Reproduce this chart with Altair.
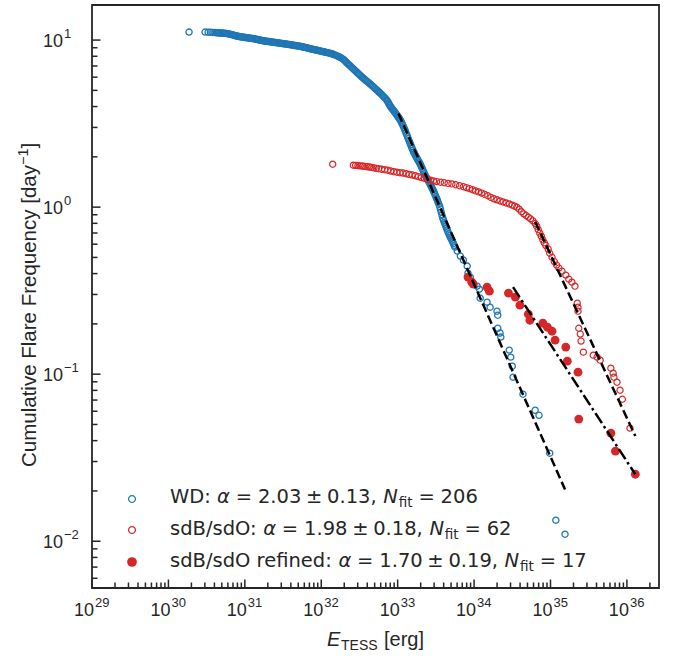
import altair as alt
import pandas as pd
import numpy as np

# ---------------- data (log10 E [erg], log10 cumulative frequency [1/day]) ----------------
wd_logE = [30.27, 30.48, 30.52, 30.55, 30.58,
           30.610, 30.625, 30.640, 30.655, 30.670, 30.685, 30.700, 30.715, 30.730, 30.745,
           30.760, 30.775, 30.790, 30.805, 30.820, 30.835, 30.850, 30.865, 30.880, 30.895,
           30.910, 30.925, 30.940, 30.955, 30.970, 30.985, 31.000, 31.015, 31.030, 31.045,
           31.060, 31.075, 31.090, 31.105, 31.120, 31.135, 31.150, 31.165, 31.180, 31.195,
           31.210, 31.225, 31.240, 31.255, 31.270, 31.285, 31.300, 31.315, 31.330, 31.345,
           31.360, 31.375, 31.390, 31.405, 31.420, 31.435, 31.450, 31.465, 31.480, 31.495,
           31.510, 31.525, 31.540, 31.555, 31.570, 31.585, 31.600, 31.615, 31.630, 31.645,
           31.660, 31.675, 31.690, 31.705, 31.720, 31.735, 31.750, 31.765, 31.780, 31.795,
           31.810, 31.825, 31.840, 31.855, 31.870, 31.885, 31.900, 31.915, 31.930, 31.945,
           31.960, 31.975, 31.990, 32.005, 32.020, 32.035, 32.050, 32.065, 32.080, 32.095,
           32.110, 32.125, 32.140, 32.155, 32.170, 32.185, 32.200, 32.215, 32.230, 32.245,
           32.260,
           32.275, 32.29, 32.305, 32.32, 32.335, 32.35, 32.365, 32.38, 32.395, 32.41, 32.425, 32.44,
           32.455, 32.47, 32.485, 32.50, 32.515, 32.53, 32.545, 32.56, 32.575, 32.59, 32.605, 32.62,
           32.635, 32.65, 32.665, 32.68, 32.695, 32.71, 32.725, 32.74, 32.755, 32.77, 32.785, 32.80,
           32.815, 32.83, 32.845,
           32.86, 32.87, 32.88, 32.89, 32.90, 32.91, 32.92, 32.93, 32.94, 32.95, 32.96, 32.97, 32.98,
           32.99, 33.00, 33.01, 33.02, 33.03, 33.04, 33.05, 33.06, 33.07, 33.08, 33.09, 33.10, 33.11,
           33.12, 33.13, 33.14, 33.15, 33.16, 33.17, 33.18, 33.19, 33.20, 33.21, 33.22, 33.23, 33.24,
           33.25, 33.26, 33.27, 33.28, 33.29, 33.30, 33.31, 33.32, 33.33, 33.34, 33.35, 33.36, 33.37,
           33.38, 33.39, 33.40, 33.41, 33.42, 33.43, 33.44, 33.45, 33.46, 33.47, 33.48, 33.49, 33.50,
           33.51, 33.52, 33.53, 33.54, 33.55, 33.56, 33.57, 33.58, 33.59, 33.60, 33.61, 33.62, 33.63,
           33.64, 33.65, 33.66, 33.67, 33.68, 33.69, 33.70, 33.71, 33.72, 33.73, 33.74, 33.75, 33.78,
           33.82, 33.86, 33.91, 33.92, 33.95, 34.04, 34.07, 34.08, 34.17, 34.21, 34.30, 34.31, 34.31,
           34.34, 34.35, 34.46, 34.48, 34.50, 34.51, 34.64, 34.80, 34.85, 34.99, 35.07, 35.19]
wd_logF = [1.048, 1.048, 1.047, 1.047, 1.046,
           1.045, 1.044, 1.044, 1.043, 1.043, 1.042, 1.042, 1.041, 1.041, 1.040,
           1.040, 1.038, 1.037, 1.035, 1.034, 1.032, 1.030, 1.028, 1.026, 1.024,
           1.023, 1.021, 1.020, 1.019, 1.018, 1.017, 1.016, 1.015, 1.014, 1.013,
           1.012, 1.011, 1.010, 1.009, 1.008, 1.006, 1.005, 1.003, 1.002, 1.000,
           0.999, 0.997, 0.996, 0.995, 0.994, 0.993, 0.992, 0.991, 0.990, 0.989,
           0.988, 0.987, 0.986, 0.985, 0.984, 0.983, 0.982, 0.981, 0.980, 0.979,
           0.978, 0.977, 0.976, 0.975, 0.974, 0.973, 0.972, 0.971, 0.970, 0.968,
           0.967, 0.966, 0.965, 0.964, 0.963, 0.961, 0.960, 0.958, 0.957, 0.955,
           0.954, 0.952, 0.950, 0.948, 0.947, 0.945, 0.944, 0.942, 0.941, 0.939,
           0.938, 0.936, 0.934, 0.932, 0.931, 0.929, 0.928, 0.926, 0.925, 0.923,
           0.922, 0.920, 0.918, 0.915, 0.913, 0.910, 0.907, 0.904, 0.901, 0.897,
           0.894,
           0.889, 0.884, 0.878, 0.871, 0.864, 0.858, 0.851, 0.845, 0.838, 0.832, 0.825, 0.819,
           0.812, 0.806, 0.799, 0.793, 0.786, 0.780, 0.774, 0.768, 0.762, 0.756, 0.751, 0.745,
           0.739, 0.733, 0.727, 0.721, 0.714, 0.708, 0.702, 0.696, 0.689, 0.683, 0.676, 0.669,
           0.662, 0.655, 0.648,
           0.639, 0.632, 0.624, 0.615, 0.607, 0.600, 0.594, 0.588, 0.582, 0.576, 0.570, 0.564, 0.557,
           0.551, 0.545, 0.538, 0.532, 0.525, 0.517, 0.508, 0.498, 0.488, 0.478, 0.467, 0.456, 0.444,
           0.432, 0.420, 0.409, 0.397, 0.386, 0.374, 0.362, 0.351, 0.340, 0.330, 0.321, 0.312, 0.303,
           0.295, 0.286, 0.278, 0.270, 0.262, 0.253, 0.243, 0.233, 0.222, 0.211, 0.200, 0.191, 0.182,
           0.174, 0.166, 0.158, 0.150, 0.141, 0.132, 0.123, 0.114, 0.105, 0.095, 0.085, 0.074, 0.063,
           0.052, 0.040, 0.028, 0.016, 0.004, -0.013, -0.030, -0.048, -0.065, -0.078, -0.090, -0.102,
           -0.114, -0.126, -0.138, -0.149, -0.160, -0.170, -0.180, -0.189, -0.198, -0.208, -0.218,
           -0.229, -0.240, -0.263,
           -0.293, -0.317, -0.353, -0.395, -0.419, -0.473, -0.491, -0.545, -0.569, -0.599, -0.623,
           -0.647, -0.725, -0.754, -0.778, -0.856, -0.898, -0.952, -1.018, -1.120, -1.216, -1.246,
           -1.473, -1.874, -1.958]

sdb_logE = [32.15, 32.42, 32.45, 32.48, 32.51, 32.54, 32.57, 32.60, 32.63, 32.66, 32.69, 32.72, 32.75,
            32.79, 32.83, 32.87, 32.91, 32.95, 32.99, 33.03, 33.07, 33.11, 33.15, 33.19, 33.23, 33.27,
            33.31, 33.35, 33.39, 33.43, 33.47, 33.51, 33.56, 33.61, 33.66, 33.71, 33.76, 33.81, 33.86,
            33.90, 33.94, 33.98, 34.02, 34.06, 34.10, 34.14, 34.18, 34.22, 34.26, 34.30, 34.34, 34.38,
            34.42, 34.46, 34.50, 34.53, 34.56, 34.59, 34.62, 34.65, 34.68, 34.71, 34.74, 34.77, 34.80,
            34.82, 34.84, 34.86, 34.88, 34.90, 34.92, 34.94, 34.97, 34.99, 35.02, 35.05, 35.08, 35.11,
            35.15, 35.20, 35.24, 35.28, 35.32, 35.35, 35.36, 35.36, 35.37, 35.39, 35.40, 35.43, 35.56,
            35.61, 35.65, 35.79, 35.82, 35.83, 35.87, 35.91, 35.94, 36.04]
sdb_logF = [0.257, 0.251, 0.250, 0.249, 0.247, 0.246, 0.244, 0.242, 0.240, 0.238, 0.235, 0.232, 0.230,
            0.227, 0.224, 0.221, 0.216, 0.212, 0.209, 0.206, 0.204, 0.200, 0.196, 0.192, 0.188, 0.183,
            0.177, 0.172, 0.166, 0.161, 0.157, 0.153, 0.149, 0.146, 0.142, 0.139, 0.134, 0.128, 0.122,
            0.117, 0.111, 0.104, 0.097, 0.091, 0.084, 0.076, 0.068, 0.058, 0.050, 0.044, 0.037, 0.031,
            0.025, 0.019, 0.012, 0.006, 0.000, -0.012, -0.027, -0.040, -0.050, -0.060, -0.070, -0.082,
            -0.098, -0.114, -0.135, -0.156, -0.174, -0.196, -0.214, -0.230, -0.251, -0.276, -0.300,
            -0.326, -0.347, -0.365, -0.383, -0.407, -0.431, -0.449, -0.473, -0.575, -0.599, -0.623,
            -0.725, -0.760, -0.802, -0.868, -0.886, -0.898, -0.916, -0.964, -0.994, -1.018, -1.048,
            -1.096, -1.150, -1.323]

ref_logE = [33.92, 33.97, 33.99, 34.17, 34.20, 34.45, 34.54, 34.60, 34.71, 34.73, 34.90, 34.96, 35.02,
            35.06, 35.20, 35.22, 35.36, 35.37, 35.79, 35.85, 36.11]
ref_logF = [-0.419, -0.449, -0.461, -0.479, -0.503, -0.515, -0.539, -0.587, -0.641, -0.677, -0.695,
            -0.719, -0.743, -0.796, -0.838, -0.922, -0.988, -1.269, -1.353, -1.461, -1.599]

fit_wd_logE = [33.01, 35.19]
fit_wd_logF = [0.561, -1.690]
fit_sdb_logE = [34.80, 36.11]
fit_sdb_logF = [-0.088, -1.370]
fit_ref_logE = [34.51, 36.11]
fit_ref_logF = [-0.479, -1.599]

x_major_exp = [29, 30, 31, 32, 33, 34, 35, 36]
y_major_exp = [-2, -1, 0, 1]

legend_rows = [
    ["WD:", "2.03", "0.13,", "206"],
    ["sdB/sdO:", "1.98", "0.18,", "62"],
    ["sdB/sdO refined:", "1.70", "0.19,", "17"],
]

# ---------------- layout ----------------
W, H = 567, 583
XMIN, XMAX = 1e29, 10 ** 36.42
YMIN, YMAX = 10 ** -2.28, 10 ** 1.21
BLUE, RED = "#1f77b4", "#d62728"
AX = "#262626"
TICKFONT = "Liberation Sans"
LEGFONT = "DejaVu Sans"

xs = alt.Scale(type="log", domain=[XMIN, XMAX], nice=False)
ys = alt.Scale(type="log", domain=[YMIN, YMAX], nice=False)


def pts(lx, ly):
    return pd.DataFrame({"E": np.power(10.0, lx), "F": np.power(10.0, ly)})


def enc():
    return dict(x=alt.X("E:Q", scale=xs, axis=None), y=alt.Y("F:Q", scale=ys, axis=None))


dummy = pd.DataFrame({"d": [0]})
layers = []

layers.append(alt.Chart(pts(wd_logE, wd_logF)).mark_point(
    shape="circle", filled=False, size=38, strokeWidth=1.3, color=BLUE, opacity=1).encode(**enc()))
layers.append(alt.Chart(pts(sdb_logE, sdb_logF)).mark_point(
    shape="circle", filled=False, size=38, strokeWidth=1.2, color=RED, opacity=1).encode(**enc()))
layers.append(alt.Chart(pts(ref_logE, ref_logF)).mark_circle(
    size=78, color=RED, opacity=1).encode(**enc()))

layers.append(alt.Chart(pts(fit_wd_logE, fit_wd_logF)).mark_line(
    color="black", strokeWidth=2.5, strokeDash=[9, 4]).encode(**enc()))
layers.append(alt.Chart(pts(fit_sdb_logE, fit_sdb_logF)).mark_line(
    color="black", strokeWidth=2.5, strokeDash=[9, 4]).encode(**enc()))
layers.append(alt.Chart(pts(fit_ref_logE, fit_ref_logF)).mark_line(
    color="black", strokeWidth=2.5, strokeDash=[12, 3.5, 2.5, 3.5]).encode(**enc()))

# ---------------- ticks (inward) ----------------
x_major = [10.0 ** e for e in x_major_exp]
x_minor = [k * 10.0 ** e for e in x_major_exp for k in range(2, 10) if k * 10.0 ** e <= XMAX]
y_major = [10.0 ** e for e in y_major_exp]
y_minor = [k * 10.0 ** e for e in range(-3, 2) for k in range(2, 10) if YMIN <= k * 10.0 ** e <= YMAX]

for vals, ln in [(x_major, 8.5), (x_minor, 5.5)]:
    layers.append(alt.Chart(pd.DataFrame({"v": vals})).mark_rule(color=AX, strokeWidth=1.5).encode(
        x=alt.X("v:Q", scale=xs, axis=None), y=alt.value(H), y2=alt.value(H - ln)))
for vals, ln in [(y_major, 8.5), (y_minor, 5.5)]:
    layers.append(alt.Chart(pd.DataFrame({"v": vals})).mark_rule(color=AX, strokeWidth=1.5).encode(
        y=alt.Y("v:Q", scale=ys, axis=None), x=alt.value(0), x2=alt.value(ln)))

# ---------------- tick labels ----------------
xlab = pd.DataFrame({"v": x_major, "exp": [str(e) for e in x_major_exp]})
layers.append(alt.Chart(xlab).mark_text(text="10", align="right", baseline="alphabetic", dx=2,
                                        font=TICKFONT, fontSize=18, color=AX).encode(
    x=alt.X("v:Q", scale=xs, axis=None), y=alt.value(H + 28)))
layers.append(alt.Chart(xlab).mark_text(align="left", baseline="alphabetic", dx=3,
                                        font=TICKFONT, fontSize=13, color=AX).encode(
    x=alt.X("v:Q", scale=xs, axis=None), y=alt.value(H + 19), text="exp:N"))

ylab = pd.DataFrame({"v": y_major, "exp": [str(e).replace("-", "\u2212") for e in y_major_exp]})
layers.append(alt.Chart(ylab).mark_text(text="10", align="left", baseline="alphabetic", dy=7,
                                        font=TICKFONT, fontSize=18, color=AX).encode(
    y=alt.Y("v:Q", scale=ys, axis=None), x=alt.value(-49)))
layers.append(alt.Chart(ylab).mark_text(align="left", baseline="alphabetic", dy=-2,
                                        font=TICKFONT, fontSize=13, color=AX).encode(
    y=alt.Y("v:Q", scale=ys, axis=None), x=alt.value(-28), text="exp:N"))


# ---------------- axis titles ----------------
def txt(t, x, y, size, style="normal", font=TICKFONT, angle=0, align="left"):
    kw = dict(text=t, align=align, baseline="alphabetic", font=font, fontSize=size,
              fontStyle=style, color=AX)
    if angle:
        kw["angle"] = angle
    return alt.Chart(dummy).mark_text(**kw).encode(x=alt.value(x), y=alt.value(y))


layers.append(txt("E", 235, 641, 20, "italic"))
layers.append(txt("TESS", 249, 645, 14))
layers.append(txt("[erg]", 292, 641, 20))

layers.append(txt("Cumulative Flare Frequency [day", -56, 462, 20.5, angle=270))
layers.append(txt("\u22121", -64, 160, 14.4, angle=270))
layers.append(txt("]", -56, 143.5, 20.5, angle=270))

# ---------------- legend ----------------
leg_y = [494, 525, 557]
base_y = [498, 530, 562]
layers.append(alt.Chart(dummy).mark_point(shape="circle", filled=False, size=48, strokeWidth=1.2,
                                          color=BLUE, opacity=1).encode(x=alt.value(40), y=alt.value(leg_y[0])))
layers.append(alt.Chart(dummy).mark_point(shape="circle", filled=False, size=48, strokeWidth=1.2,
                                          color=RED, opacity=1).encode(x=alt.value(40), y=alt.value(leg_y[1])))
layers.append(alt.Chart(dummy).mark_circle(size=95, color=RED, opacity=1).encode(
    x=alt.value(40), y=alt.value(leg_y[2])))

# DejaVu Sans advance widths (em) used to place the mathtext-like pieces of each legend label
CW = {"W": 0.989, "D": 0.770, ":": 0.337, " ": 0.318, "s": 0.521, "d": 0.635, "B": 0.686,
      "/": 0.337, "O": 0.787, "r": 0.411, "e": 0.615, "f": 0.352, "i": 0.278, "n": 0.634,
      "t": 0.392, ".": 0.318, ",": 0.318}


def tw(s, size):
    return size * sum(CW.get(c, 0.636) for c in s)


S = 19.5
SUB = 13.6
THICK, MED, COMMA = 0.30 * S, 0.24 * S, 0.34 * S
for r, row in enumerate(legend_rows):
    by = base_y[r]
    x = 78
    layers.append(txt(row[0], x, by, S, font=LEGFONT))
    x += tw(row[0] + " ", S)
    layers.append(txt("\u03b1", x, by, S, "italic", font=LEGFONT))
    x += 0.659 * S + THICK
    layers.append(txt("=", x, by, S, font=LEGFONT))
    x += 0.838 * S + THICK
    layers.append(txt(row[1], x, by, S, font=LEGFONT))
    x += tw(row[1], S) + MED
    layers.append(txt("\u00b1", x, by, S, font=LEGFONT))
    x += 0.838 * S + MED
    layers.append(txt(row[2], x, by, S, font=LEGFONT))
    x += tw(row[2], S) + COMMA
    layers.append(txt("N", x, by, S, "italic", font=LEGFONT))
    x += 0.748 * S + 0.04 * S
    layers.append(txt("fit", x, by + 4, SUB, font=LEGFONT))
    x += tw("fit", SUB) + THICK
    layers.append(txt("=", x, by, S, font=LEGFONT))
    x += 0.838 * S + THICK
    layers.append(txt(row[3], x, by, S, font=LEGFONT))

chart = alt.layer(*layers).properties(
    width=W, height=H,
    autosize=alt.AutoSizeParams(type="none"),
    padding={"left": 92, "top": 5, "right": 678 - 92 - W, "bottom": 656 - 5 - H},
    background="white",
).configure_view(stroke=AX, strokeWidth=1.8)

chart.save("out.html", embed_options={"renderer": "svg", "actions": False})
